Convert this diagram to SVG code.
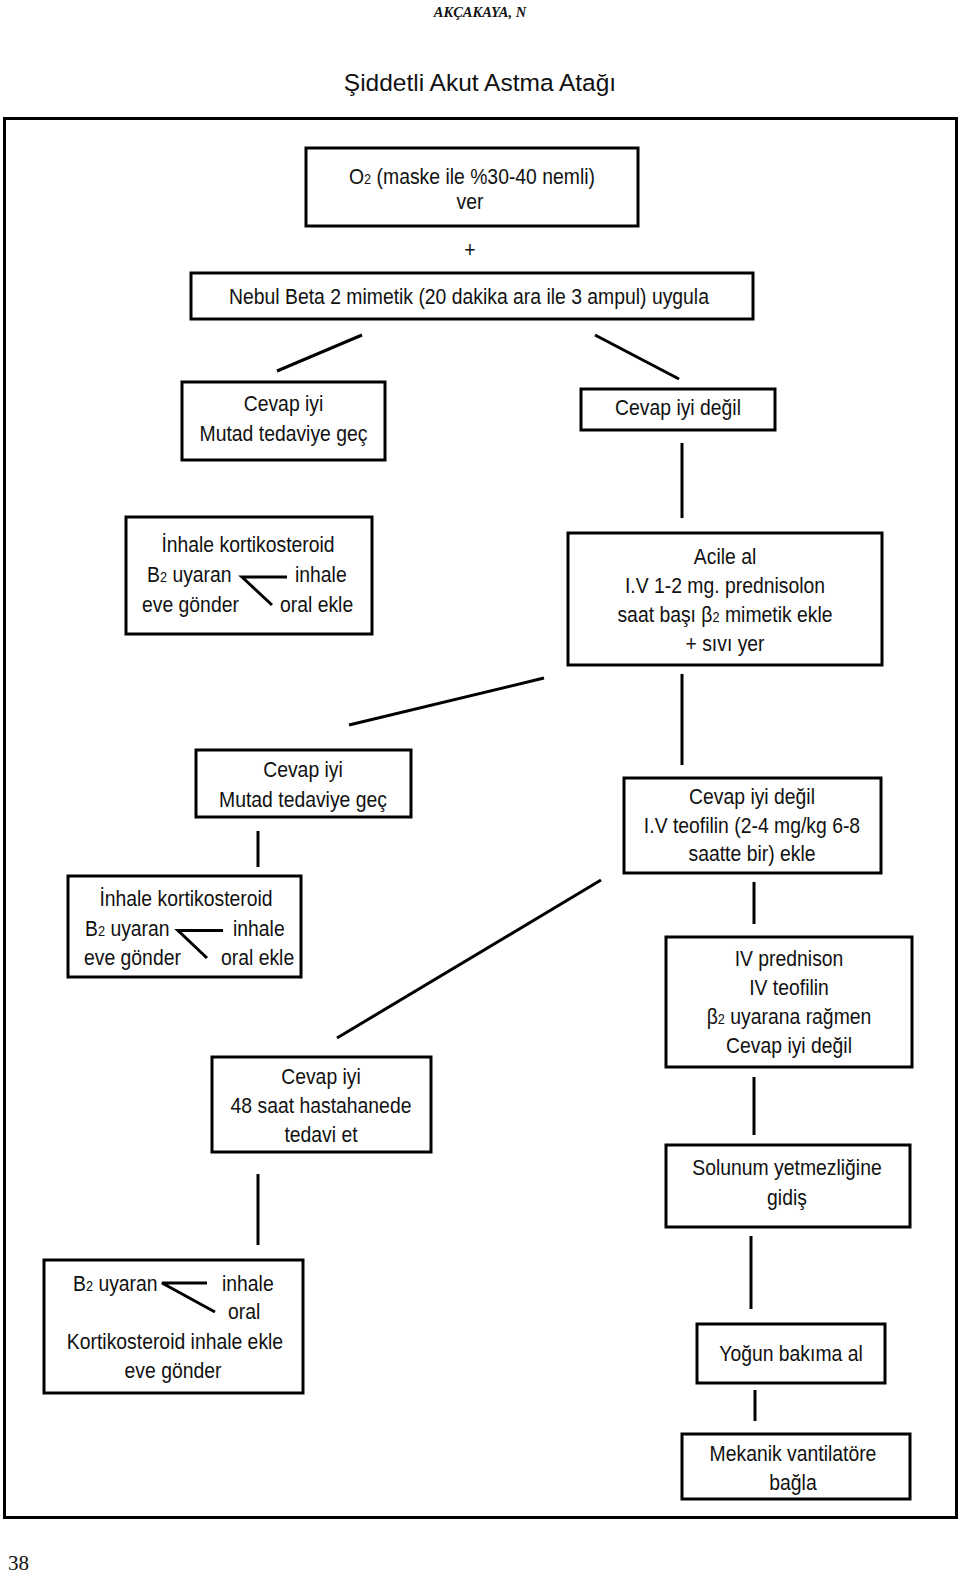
<svg xmlns="http://www.w3.org/2000/svg" width="960" height="1578" viewBox="0 0 960 1578">
<style>
.bg{fill:#ffffff}
.box{fill:#ffffff;stroke:#000000;stroke-width:3}
.frame{fill:none;stroke:#000000;stroke-width:3}
.ln{stroke:#000000;stroke-width:3;fill:none;stroke-linecap:butt}
.t{font-family:"Liberation Sans",Arial,sans-serif;font-size:22px;fill:#111111;text-anchor:middle}
.s{font-family:"Liberation Sans",Arial,sans-serif;font-size:22px;fill:#111111;text-anchor:start}
.sub{font-size:14.5px}
.hdr{font-family:"Liberation Serif","Times New Roman",serif;font-size:14.5px;font-weight:bold;font-style:italic;fill:#111111;text-anchor:middle}
.title{font-family:"Liberation Sans",Arial,sans-serif;font-size:24.5px;fill:#111111;text-anchor:middle}
.pg{font-family:"Liberation Serif","Times New Roman",serif;font-size:21px;fill:#111111}
</style>
<rect class="bg" x="0" y="0" width="960" height="1578"/>
<text class="hdr" x="480" y="17">AKÇAKAYA, N</text>
<text class="title" x="480" y="91">Şiddetli Akut Astma Atağı</text>
<rect class="frame" x="4.5" y="118.5" width="952" height="1399"/>

<g id="connectors">
<line class="ln" x1="277" y1="371" x2="362" y2="335"/>
<line class="ln" x1="595" y1="335" x2="679" y2="379"/>
<line class="ln" x1="682" y1="443" x2="682" y2="518"/>
<line class="ln" x1="349" y1="725" x2="544" y2="678"/>
<line class="ln" x1="682" y1="674" x2="682" y2="765"/>
<line class="ln" x1="258" y1="831" x2="258" y2="867"/>
<line class="ln" x1="337" y1="1038" x2="601" y2="880"/>
<line class="ln" x1="754" y1="882" x2="754" y2="924"/>
<line class="ln" x1="754" y1="1077" x2="754" y2="1135"/>
<line class="ln" x1="751" y1="1236" x2="751" y2="1309"/>
<line class="ln" x1="755" y1="1390" x2="755" y2="1421"/>
<line class="ln" x1="258" y1="1174" x2="258" y2="1245"/>
</g>

<g id="n-o2">
<rect class="box" x="306" y="148" width="332" height="78"/>
<text class="t" transform="translate(472,184) scale(0.88,1)">O<tspan class="sub">2</tspan> (maske ile %30-40 nemli)</text>
<text class="t" transform="translate(470,209) scale(0.88,1)">ver</text>
</g>
<g id="n-plus">
<text class="t" transform="translate(470,257) scale(0.88,1)">+</text>
</g>
<g id="n-nebul">
<rect class="box" x="191" y="273" width="562" height="46"/>
<text class="t" transform="translate(469,304) scale(0.88,1)">Nebul Beta 2 mimetik (20 dakika ara ile 3 ampul) uygula</text>
</g>
<g id="n-iyi1">
<rect class="box" x="182" y="382" width="203" height="78"/>
<text class="t" transform="translate(283.5,411) scale(0.88,1)">Cevap iyi</text>
<text class="t" transform="translate(283.5,441) scale(0.88,1)">Mutad tedaviye geç</text>
</g>
<g id="n-degil1">
<rect class="box" x="581" y="389" width="194" height="41"/>
<text class="t" transform="translate(678,415) scale(0.88,1)">Cevap iyi değil</text>
</g>
<g id="n-inhale1">
<rect class="box" x="126" y="517" width="246" height="117"/>
<text class="t" transform="translate(248,552) scale(0.88,1)">İnhale kortikosteroid</text>
<text class="s" transform="translate(147,582) scale(0.88,1)">B<tspan class="sub">2</tspan> uyaran</text>
<text class="s" transform="translate(295,582) scale(0.88,1)">inhale</text>
<text class="s" transform="translate(142,612) scale(0.88,1)">eve gönder</text>
<text class="s" transform="translate(280,612) scale(0.88,1)">oral ekle</text>
<polyline class="ln" points="287,577 242,577 272,605"/>
</g>
<g id="n-acile">
<rect class="box" x="568" y="533" width="314" height="132"/>
<text class="t" transform="translate(725,564) scale(0.88,1)">Acile al</text>
<text class="t" transform="translate(725,593) scale(0.88,1)">I.V 1-2 mg. prednisolon</text>
<text class="t" transform="translate(725,622) scale(0.88,1)">saat başı β<tspan class="sub">2</tspan> mimetik ekle</text>
<text class="t" transform="translate(725,651) scale(0.88,1)">+ sıvı yer</text>
</g>
<g id="n-iyi2">
<rect class="box" x="196" y="750" width="215" height="67"/>
<text class="t" transform="translate(303,777) scale(0.88,1)">Cevap iyi</text>
<text class="t" transform="translate(303,807) scale(0.88,1)">Mutad tedaviye geç</text>
</g>
<g id="n-inhale2">
<rect class="box" x="68" y="876" width="233" height="101"/>
<text class="t" transform="translate(186,905.5) scale(0.88,1)">İnhale kortikosteroid</text>
<text class="s" transform="translate(85,936) scale(0.88,1)">B<tspan class="sub">2</tspan> uyaran</text>
<text class="s" transform="translate(233,936) scale(0.88,1)">inhale</text>
<text class="s" transform="translate(84,965) scale(0.88,1)">eve gönder</text>
<text class="s" transform="translate(221,965) scale(0.88,1)">oral ekle</text>
<polyline class="ln" points="223,930.5 178,930.5 207,958"/>
</g>
<g id="n-teofilin">
<rect class="box" x="624" y="778" width="257" height="95"/>
<text class="t" transform="translate(752,803.5) scale(0.88,1)">Cevap iyi değil</text>
<text class="t" transform="translate(752,832.5) scale(0.88,1)">I.V teofilin (2-4 mg/kg 6-8</text>
<text class="t" transform="translate(752,861) scale(0.88,1)">saatte bir) ekle</text>
</g>
<g id="n-prednison">
<rect class="box" x="666" y="937" width="246" height="130"/>
<text class="t" transform="translate(789,966) scale(0.88,1)">IV prednison</text>
<text class="t" transform="translate(789,995) scale(0.88,1)">IV teofilin</text>
<text class="t" transform="translate(789,1024) scale(0.88,1)">β<tspan class="sub">2</tspan> uyarana rağmen</text>
<text class="t" transform="translate(789,1053) scale(0.88,1)">Cevap iyi değil</text>
</g>
<g id="n-48saat">
<rect class="box" x="212" y="1057" width="219" height="95"/>
<text class="t" transform="translate(321,1083.5) scale(0.88,1)">Cevap iyi</text>
<text class="t" transform="translate(321,1113) scale(0.88,1)">48 saat hastahanede</text>
<text class="t" transform="translate(321,1142) scale(0.88,1)">tedavi et</text>
</g>
<g id="n-solunum">
<rect class="box" x="666" y="1145" width="244" height="82"/>
<text class="t" transform="translate(787,1175) scale(0.88,1)">Solunum yetmezliğine</text>
<text class="t" transform="translate(787,1205) scale(0.88,1)">gidiş</text>
</g>
<g id="n-eve">
<rect class="box" x="44" y="1260" width="259" height="133"/>
<text class="s" transform="translate(73,1290.5) scale(0.88,1)">B<tspan class="sub">2</tspan> uyaran</text>
<text class="s" transform="translate(222,1290.5) scale(0.88,1)">inhale</text>
<text class="s" transform="translate(228,1319) scale(0.88,1)">oral</text>
<text class="t" transform="translate(175,1348.5) scale(0.88,1)">Kortikosteroid inhale ekle</text>
<text class="t" transform="translate(173,1377.5) scale(0.88,1)">eve gönder</text>
<polyline class="ln" points="207,1283 162,1283 215,1312"/>
</g>
<g id="n-yogun">
<rect class="box" x="697" y="1324" width="188" height="59"/>
<text class="t" transform="translate(791,1361) scale(0.88,1)">Yoğun bakıma al</text>
</g>
<g id="n-mekanik">
<rect class="box" x="682" y="1434" width="228" height="65"/>
<text class="t" transform="translate(793,1461) scale(0.88,1)">Mekanik vantilatöre</text>
<text class="t" transform="translate(793,1490) scale(0.88,1)">bağla</text>
</g>
<text class="pg" x="8" y="1570">38</text>
</svg>
